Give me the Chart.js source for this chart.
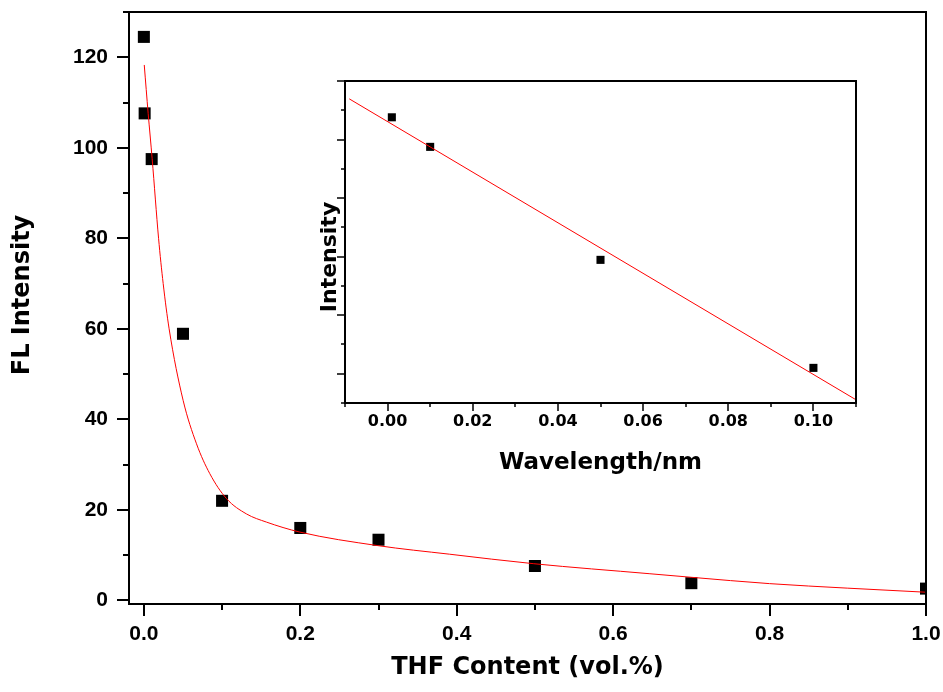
<!DOCTYPE html>
<html>
<head>
<meta charset="utf-8">
<script src="https://cdn.jsdelivr.net/npm/chart.js@4/dist/chart.umd.min.js"></script>
<style>
  html, body { margin: 0; background: #fff; }
  #wrap { position: relative; width: 943px; height: 692px; }
  #main { position: absolute; left: 0; top: 0; }
  #inset { position: absolute; left: 305px; top: 70px; }
</style>
</head>
<body>
<div id="wrap">
  <canvas id="main" width="943" height="692"></canvas>
  <canvas id="inset" width="560" height="410"></canvas>
</div>
<script>
// main plot: measured points
const thfContent = [0, 0.001, 0.01, 0.05, 0.1, 0.2, 0.3, 0.5, 0.7, 1.0];
const flIntensity = [124.5, 107.6, 97.5, 58.9, 22.0, 16.0, 13.4, 7.6, 3.8, 2.6];

// main plot: fitted curve
const fitX = [0.0005, 0.0055, 0.0106, 0.0188, 0.0247, 0.0323, 0.0502, 0.0673, 0.0843, 0.1056, 0.1312, 0.1567, 0.1992, 0.299, 0.391, 0.4985, 0.646, 0.7, 0.8, 0.9, 1.0];
const fitY = [118.3, 107.6, 97.6, 80.0, 70.0, 60.0, 44.2, 34.6, 28.0, 22.5, 19.1, 17.3, 15.1, 12.1, 10.2, 8.1, 5.9, 5.1, 3.7, 2.7, 1.8];

// inset: points and straight fit
const insetX = [0.001, 0.01, 0.05, 0.1];
const insetY = [107.6, 97.5, 58.9, 22.0];
const insetFitX = [-0.009, 0.11];
const insetFitY = [113.9, 11.1];

const pts = (xs, ys) => xs.map((x, i) => ({ x, y: ys[i] }));

const tickFont = { family: "'Liberation Sans', Arial, sans-serif", weight: 'bold', size: 21 };
const insetTickFont = { family: "'DejaVu Sans', sans-serif", weight: 'bold', size: 16 };
const titleFont = { family: "'DejaVu Sans', sans-serif", weight: 'bold', size: 24 };

// fixed axis box sizes, no label overflow padding
const fixSize = (w, h) => s => {
  if (w !== null) s.width = w;
  if (h !== null) s.height = h;
  s.paddingTop = s.paddingBottom = s.paddingLeft = s.paddingRight = 0;
};

// box round the plot area, outward major/minor ticks, rotated y title
function frame(o) {
  return {
    id: 'frame',
    afterDraw(chart) {
      const { ctx, chartArea: a } = chart;
      const x = chart.scales.x, y = chart.scales.y;
      ctx.save();
      ctx.strokeStyle = '#000';
      ctx.lineWidth = o.border;
      ctx.strokeRect(a.left, a.top, a.right - a.left, a.bottom - a.top);
      ctx.lineWidth = o.tickWidth;
      ctx.beginPath();
      x.ticks.forEach(t => {
        const px = Math.round(x.getPixelForValue(t.value));
        const len = o.majorX(t.value) ? o.major : o.minor;
        ctx.moveTo(px, a.bottom);
        ctx.lineTo(px, a.bottom + len);
      });
      y.ticks.forEach(t => {
        const py = Math.round(y.getPixelForValue(t.value));
        const len = o.majorY(t.value) ? o.major : o.minor;
        ctx.moveTo(a.left, py);
        ctx.lineTo(a.left - len, py);
      });
      ctx.stroke();
      ctx.translate(o.yTitle.x, o.yTitle.y);
      ctx.rotate(-Math.PI / 2);
      ctx.font = o.yTitle.font;
      ctx.fillStyle = '#000';
      ctx.textAlign = 'center';
      ctx.textBaseline = 'middle';
      ctx.fillText(o.yTitle.text, 0, 0);
      ctx.restore();
    }
  };
}

const mainMajorX = v => Math.round(v * 10) % 2 === 0;
const mainMajorY = v => Math.round(v) % 20 === 0;

new Chart(document.getElementById('main'), {
  type: 'scatter',
  data: {
    datasets: [
      { data: pts(fitX, fitY), showLine: true, borderColor: '#ff0000', borderWidth: 1,
        pointRadius: 0, cubicInterpolationMode: 'monotone', order: 0 },
      { data: pts(thfContent, flIntensity), pointStyle: 'rect', pointRadius: 8.5,
        backgroundColor: '#000', borderColor: '#000', borderWidth: 0, order: 1 }
    ]
  },
  options: {
    responsive: false, animation: false, devicePixelRatio: 1,
    layout: { autoPadding: false, padding: { top: 12, right: 17, left: 0, bottom: 0 } },
    plugins: { legend: { display: false }, tooltip: { enabled: false } },
    scales: {
      x: {
        type: 'linear', min: -0.019, max: 1.0,
        grid: { display: false, drawTicks: false }, border: { display: false },
        ticks: { stepSize: 0.1, includeBounds: false, padding: 18, color: '#000', font: tickFont,
                 maxRotation: 0, autoSkip: false,
                 callback: v => mainMajorX(v) ? v.toFixed(1) : '' },
        title: { display: true, text: 'THF Content (vol.%)', color: '#000', font: titleFont,
                 padding: { top: 0, bottom: 10 } },
        afterFit: fixSize(null, 88)
      },
      y: {
        type: 'linear', min: -0.8, max: 130,
        grid: { display: false, drawTicks: false }, border: { display: false },
        ticks: { stepSize: 10, includeBounds: false, padding: 21, color: '#000', font: tickFont,
                 autoSkip: false,
                 callback: v => mainMajorY(v) ? String(Math.round(v)) : '' },
        afterFit: fixSize(129, null)
      }
    }
  },
  plugins: [frame({
    border: 2, tickWidth: 2, major: 12, minor: 6,
    majorX: mainMajorX, majorY: mainMajorY,
    yTitle: { text: 'FL Intensity', x: 23, y: 295, font: "bold 24px 'DejaVu Sans', sans-serif" }
  })]
});

const insetMajorX = v => Math.round(v * 100) % 2 === 0;
const insetMajorY = v => Math.round(v) % 20 === 0;

new Chart(document.getElementById('inset'), {
  type: 'scatter',
  data: {
    datasets: [
      { data: pts(insetFitX, insetFitY), showLine: true, borderColor: '#ff0000', borderWidth: 1,
        pointRadius: 0, order: 0 },
      { data: pts(insetX, insetY), pointStyle: 'rect', pointRadius: 5.7,
        backgroundColor: '#000', borderColor: '#000', borderWidth: 0, order: 1 }
    ]
  },
  options: {
    responsive: false, animation: false, devicePixelRatio: 1,
    layout: { autoPadding: false, padding: { top: 11, right: 9, left: 0, bottom: 0 } },
    plugins: { legend: { display: false }, tooltip: { enabled: false } },
    scales: {
      x: {
        type: 'linear', min: -0.01, max: 0.11,
        grid: { display: false, drawTicks: false }, border: { display: false },
        ticks: { stepSize: 0.01, includeBounds: false, padding: 9, color: '#000', font: insetTickFont,
                 maxRotation: 0, autoSkip: false,
                 callback: v => insetMajorX(v) ? v.toFixed(2) : '' },
        title: { display: true, text: 'Wavelength/nm', color: '#000',
                 font: { family: "'DejaVu Sans', sans-serif", weight: 'bold', size: 23 },
                 padding: { top: 0, bottom: 3 } },
        afterFit: fixSize(null, 77)
      },
      y: {
        type: 'linear', min: 10, max: 120,
        grid: { display: false, drawTicks: false }, border: { display: false },
        ticks: { stepSize: 10, includeBounds: false, display: false },
        afterFit: fixSize(40, null)
      }
    }
  },
  plugins: [frame({
    border: 2, tickWidth: 1.5, major: 8, minor: 4,
    majorX: insetMajorX, majorY: insetMajorY,
    yTitle: { text: 'Intensity', x: 25, y: 187, font: "bold 22px 'DejaVu Sans', sans-serif" }
  })]
});
</script>
</body>
</html>
